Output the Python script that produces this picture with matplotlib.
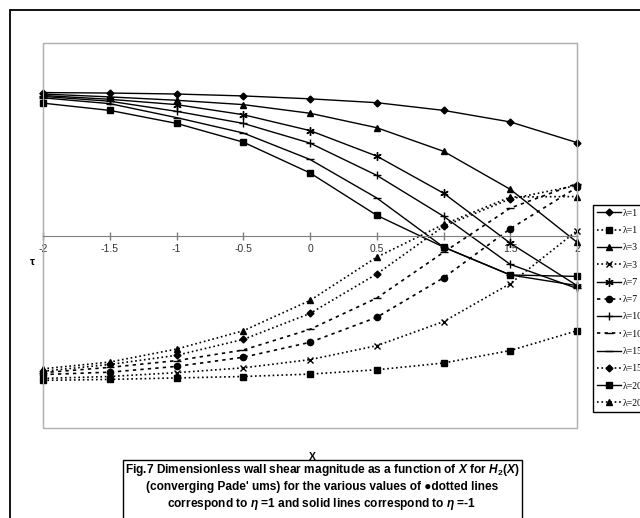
import matplotlib
matplotlib.use('Agg')
import matplotlib.pyplot as plt
from matplotlib.patches import Rectangle

plt.rcParams['font.family'] = ['Liberation Sans', 'DejaVu Sans']
plt.rcParams['mathtext.fontset'] = 'custom'
plt.rcParams['mathtext.it'] = 'Liberation Sans:italic:bold'
plt.rcParams['mathtext.rm'] = 'Liberation Sans:bold'

# X positions
x_vals = [-2, -1.5, -1, -0.5, 0, 0.5, 1, 1.5, 2]
x_ticks = ['-2', '-1.5', '-1', '-0.5', '0', '0.5', '1', '1.5', '2']

# solid lines (eta = -1)
lam1_sol = [2.97, 2.96, 2.94, 2.90, 2.84, 2.76, 2.60, 2.36, 1.93]
lam3_sol = [2.94, 2.88, 2.81, 2.72, 2.54, 2.24, 1.75, 0.96, -0.14]
lam7_sol = [2.91, 2.83, 2.72, 2.51, 2.18, 1.65, 0.88, -0.16, -1.04]
lam10_sol = [2.89, 2.79, 2.58, 2.33, 1.92, 1.25, 0.40, -0.60, -1.10]
lam15_sol = [2.86, 2.74, 2.45, 2.13, 1.58, 0.78, -0.24, -0.82, -1.04]
lam20_sol = [2.75, 2.60, 2.33, 1.94, 1.30, 0.42, -0.24, -0.82, -0.85]

# dotted lines (eta = 1)
lam1_dot = [-3.01, -2.99, -2.96, -2.93, -2.88, -2.79, -2.65, -2.39, -1.98]
lam3_dot = [-2.97, -2.93, -2.85, -2.75, -2.58, -2.29, -1.79, -1.00, 0.10]
lam7_dot = [-2.89, -2.84, -2.72, -2.53, -2.22, -1.70, -0.88, 0.14, 1.00]
lam10_dot = [-2.85, -2.74, -2.60, -2.38, -1.95, -1.30, -0.35, 0.57, 1.08]
lam15_dot = [-2.82, -2.68, -2.49, -2.16, -1.62, -0.80, 0.19, 0.76, 1.04]
lam20_dot = [-2.77, -2.63, -2.36, -1.98, -1.35, -0.45, 0.23, 0.80, 0.81]

labels = ['λ=1', 'λ=1', 'λ=3', 'λ=3', 'λ=7', 'λ=7',
          'λ=10', 'λ=10', 'λ=15', 'λ=15', 'λ=20', 'λ=20']

fig = plt.figure(figsize=(6.4, 5.18), dpi=100)

# outer frame of the excel chart
fig.patches.append(Rectangle((10/640, -0.1), 1.0, 1 - 10/518 + 0.1, transform=fig.transFigure,
                             fill=False, ec='black', lw=1.3))

ax = fig.add_axes([43/640, 1 - 428/518, 534/640, 385/518])

series = [
    (lam1_sol, '-', 'D', 3.5),
    (lam1_dot, ':', 's', 4.5),
    (lam3_sol, '-', '^', 4.5),
    (lam3_dot, ':', 'x', 4.5),
    (lam7_sol, '-', (6, 2, 0), 6),
    (lam7_dot, (0, (2, 2.5)), 'o', 4.5),
    (lam10_sol, '-', '+', 6),
    (lam10_dot, (0, (2, 2.5)), '_', 6),
    (lam15_sol, '-', '_', 6),
    (lam15_dot, ':', 'D', 3.5),
    (lam20_sol, '-', 's', 4.5),
    (lam20_dot, ':', '^', 4.5),
]

handles = []
for (y, ls, mk, ms), lab in zip(series, labels):
    lw = 1.0 if ls == '-' else 1.2
    h, = ax.plot(x_vals, y, linestyle=ls, marker=mk, markersize=ms, color='black',
                 lw=lw, mew=1.0, label=lab, clip_on=False)
    handles.append(h)

ax.set_xlim(-2, 2)
ax.set_ylim(-4, 4)
ax.set_yticks([])
ax.set_xticks(x_vals)
ax.set_xticklabels(x_ticks)
ax.spines['bottom'].set_position(('data', 0))
ax.spines['bottom'].set_color('#7f7f7f')
for s in ['left', 'top', 'right']:
    ax.spines[s].set_color('#b0b0b0')
ax.tick_params(axis='x', direction='inout', length=6, width=1, color='#7f7f7f',
               labelsize=7.5, labelcolor='#333333', pad=3)
ax.add_patch(Rectangle((0, 0), 1, 1, transform=ax.transAxes, fill=False,
                       ec='#b0b0b0', lw=1, clip_on=False))

fig.text(32/640, 1 - 262/518, 'τ', fontsize=8, fontweight='bold', ha='center', va='center')

fig.legend(handles=handles, labels=labels, loc='upper left',
           bbox_to_anchor=(593/640, 1 - 205/518), frameon=True, fancybox=False,
           edgecolor='black', framealpha=1, labelspacing=0.85,
           handlelength=2.5, handletextpad=0.2, borderpad=0.4, borderaxespad=0,
           prop={'family': 'Liberation Serif', 'size': 7})

# caption box
fig.patches.append(Rectangle((123/640, -0.1), (522 - 123)/640, 1 - 460/518 + 0.1,
                             transform=fig.transFigure, fill=False, ec='black', lw=1))
fig.text(312/640, 1 - 457/518, 'X', fontsize=7.5, fontweight='bold', ha='center', va='center')
caption = ("Fig.7 Dimensionless wall shear magnitude as a function of $X$ for $H_2(X)$\n"
           "(converging Pade' ums) for the various values of ●dotted lines\n"
           "correspond to $\\eta$ =1 and solid lines correspond to $\\eta$ =-1")
fig.text(322/640, 1 - 487/518, caption, fontsize=8.6, fontweight='bold', ha='center',
         va='center', linespacing=1.3)

fig.savefig('out.png', dpi=100)
